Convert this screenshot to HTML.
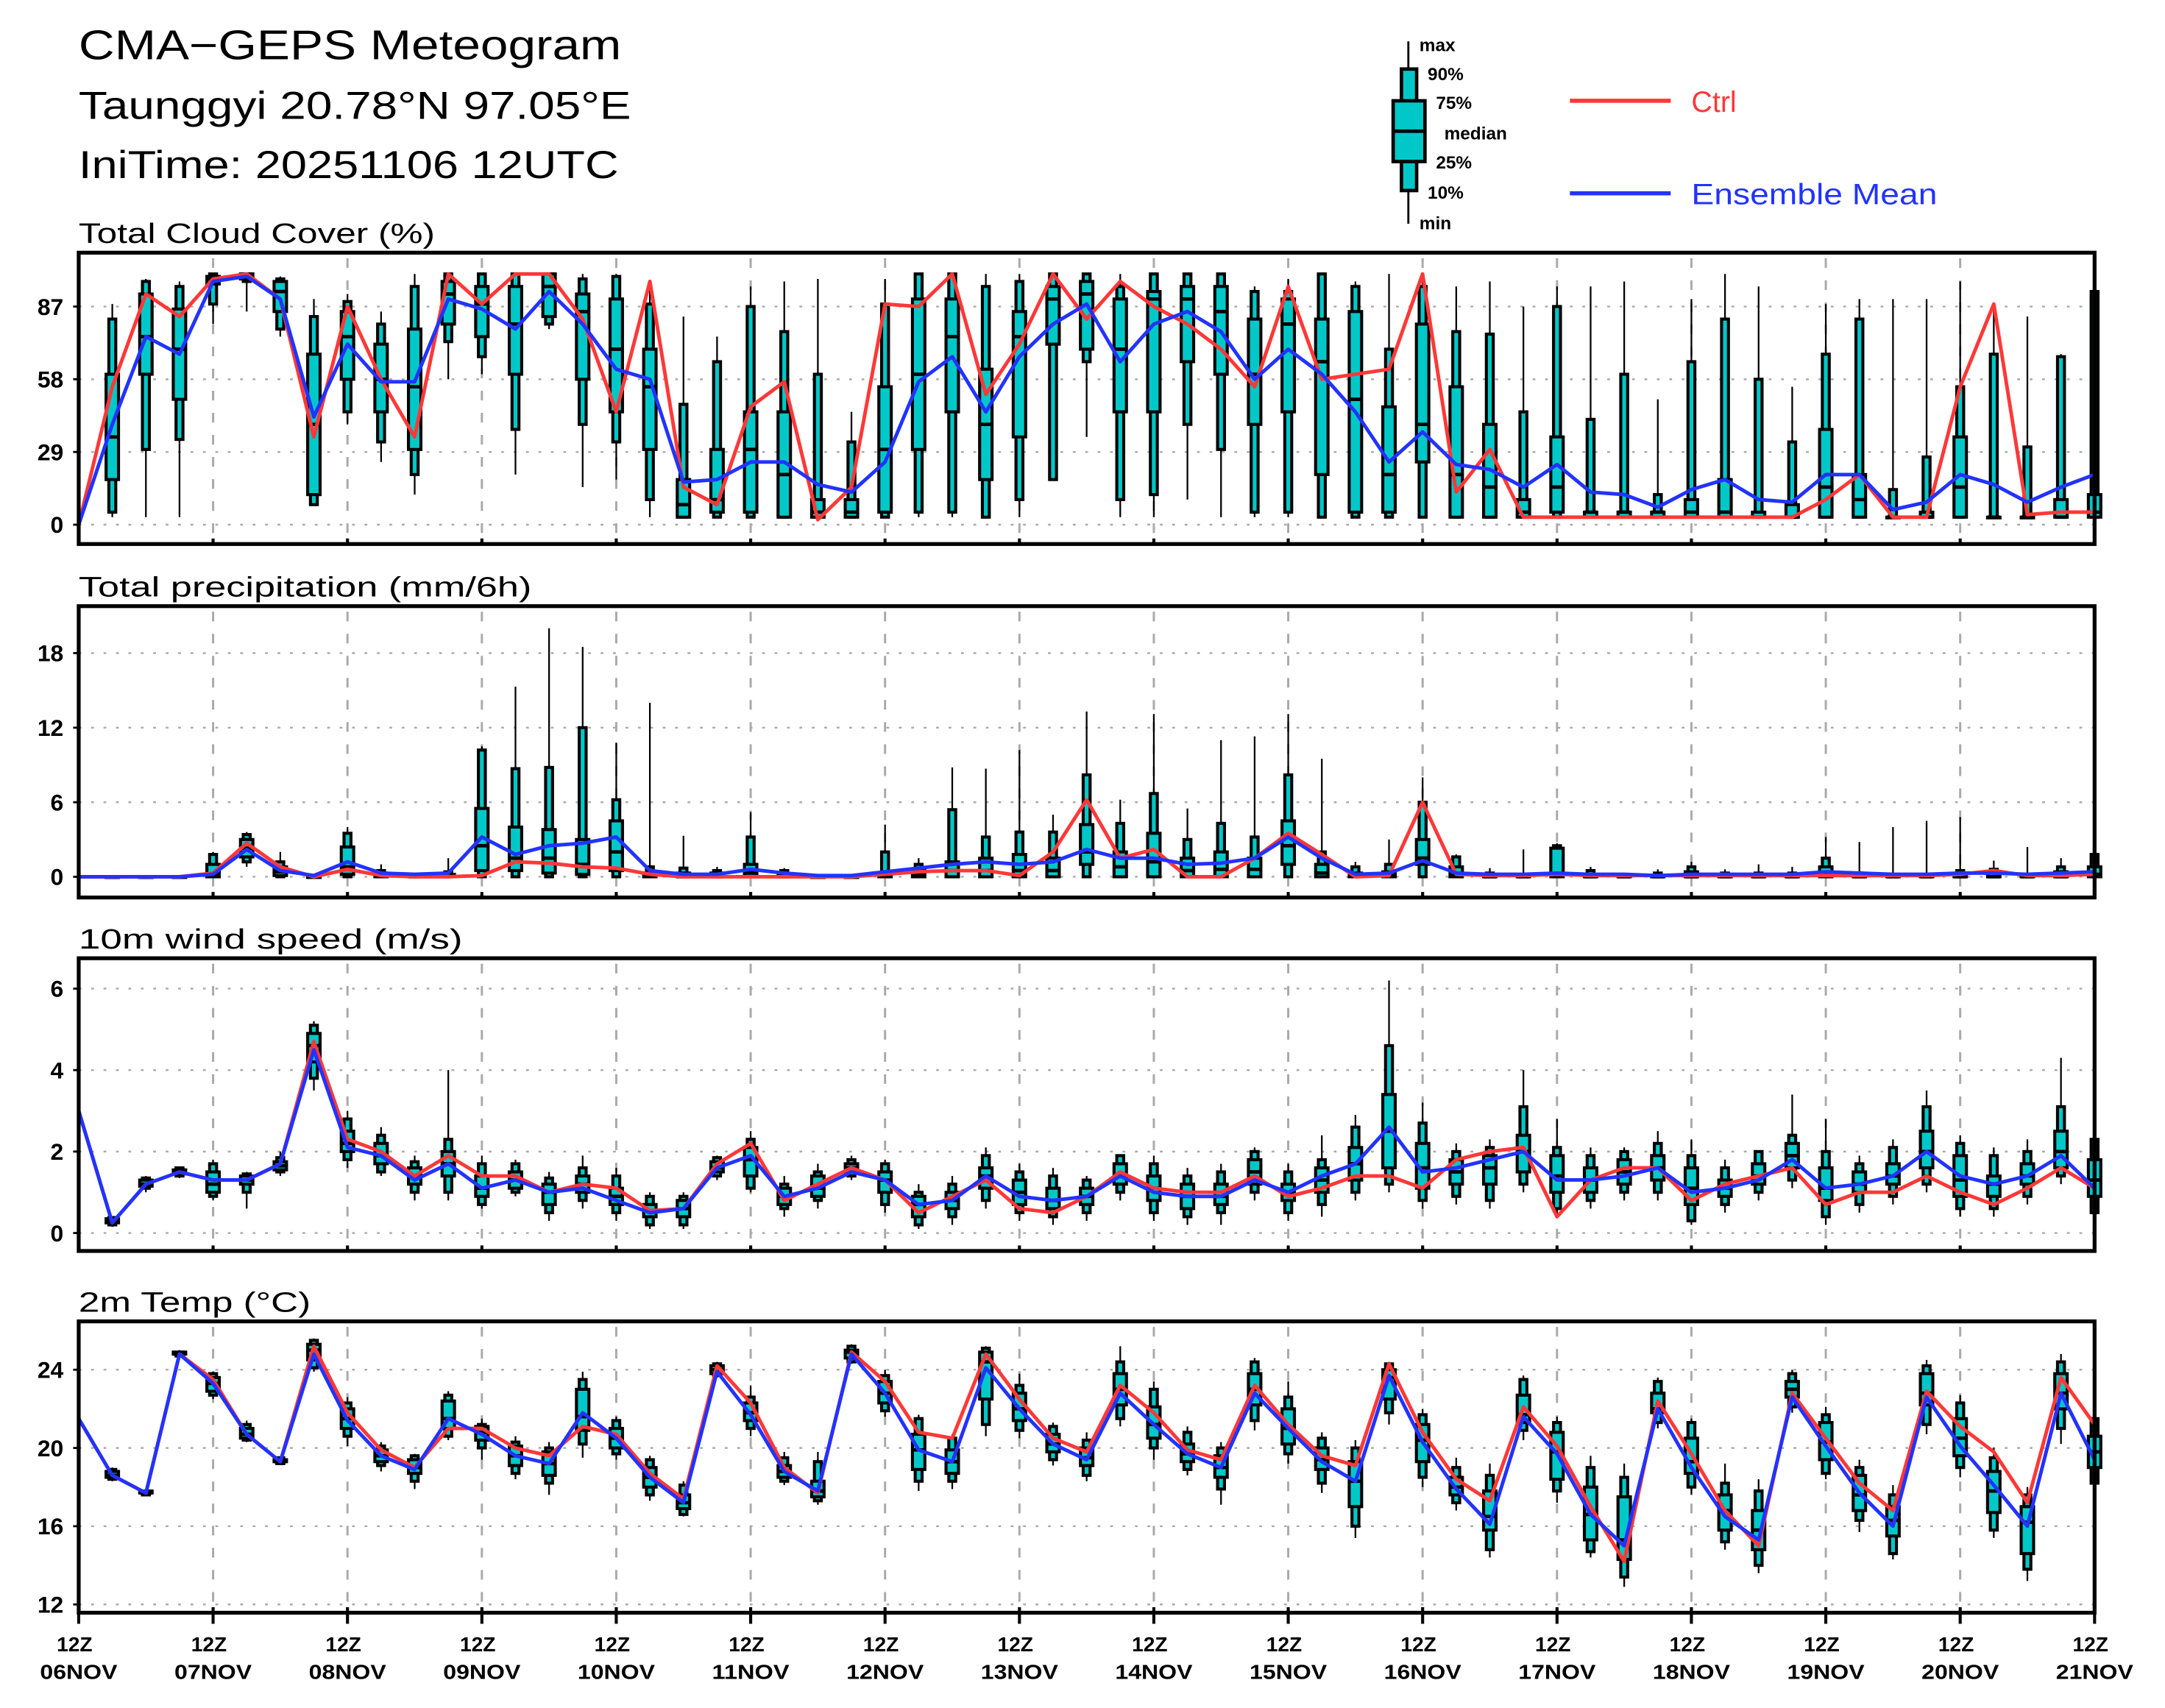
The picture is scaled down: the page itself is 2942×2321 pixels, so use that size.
<!DOCTYPE html>
<html><head><meta charset="utf-8"><title>CMA-GEPS Meteogram</title>
<style>html,body{margin:0;padding:0;background:#fff}svg{display:block}text{font-family:"Liberation Sans",sans-serif}</style>
</head><body>
<svg id="chart" xmlns="http://www.w3.org/2000/svg" width="2942" height="2321" viewBox="0 0 1568 1237" preserveAspectRatio="none">
<rect x="0" y="0" width="1568" height="1237" fill="#fff"/>
<g>
<text x="57" y="43" font-size="30" textLength="393" lengthAdjust="spacingAndGlyphs">CMA−GEPS Meteogram</text>
<text x="57" y="86" font-size="28" textLength="400" lengthAdjust="spacingAndGlyphs">Taunggyi 20.78°N 97.05°E</text>
<text x="57" y="129" font-size="28" textLength="391" lengthAdjust="spacingAndGlyphs">IniTime: 20251106 12UTC</text>
</g>
<g>
<line x1="1020" y1="30" x2="1020" y2="162" stroke="#000" stroke-width="1.5"/>
<rect x="1015" y="50" width="11" height="88" fill="#00c8c8" stroke="#000" stroke-width="2.5"/>
<rect x="1009" y="73" width="23" height="44" fill="#00c8c8" stroke="#000" stroke-width="2.5"/>
<line x1="1009" y1="95" x2="1032" y2="95" stroke="#000" stroke-width="2.5"/>
<g font-size="13" font-weight="bold">
<text x="1028" y="37">max</text><text x="1034" y="58">90%</text><text x="1040" y="79">75%</text>
<text x="1046" y="101">median</text><text x="1040" y="122">25%</text><text x="1034" y="144">10%</text><text x="1028" y="166">min</text>
</g>
<line x1="1137" y1="73" x2="1210" y2="73" stroke="#ff3838" stroke-width="3"/>
<text x="1225" y="81" font-size="21" fill="#ff3838">Ctrl</text>
<line x1="1137" y1="140" x2="1210" y2="140" stroke="#2233ff" stroke-width="3"/>
<text x="1225" y="148" font-size="21" fill="#2233ff" textLength="178" lengthAdjust="spacingAndGlyphs">Ensemble Mean</text>
</g>
<g id="panels"></g>
</svg>
<script>
// ---- shared time axis ----
const dayLabels = ["06NOV","07NOV","08NOV","09NOV","10NOV","11NOV","12NOV","13NOV","14NOV","15NOV","16NOV","17NOV","18NOV","19NOV","20NOV","21NOV"];
// ---- cloud cover (%) ----
const cloudCtrl = [0,55,92,83,98,100,90,35,87,58,35,100,88,100,100,82,45,97,15,8,47,57,2,15,88,87,100,52,72,100,82,97,87,80,70,55,95,58,60,62,100,13,30,3,3,3,3,3,3,3,3,3,10,20,3,3,55,88,4,5,5];
const cloudMean = [0,40,75,68,97,99,90,43,72,57,57,90,86,78,93,80,62,58,17,18,25,25,16,13,25,57,67,45,67,80,88,65,80,85,77,58,70,60,45,25,37,24,22,15,24,13,12,7,14,18,10,9,20,20,6,9,20,16,9,15,20];
const cloudMin = [0,3,3,3,80,85,75,8,40,25,12,58,60,20,78,15,18,3,3,3,3,3,3,3,3,3,3,3,3,18,35,3,3,10,3,3,3,3,3,3,3,3,3,3,3,3,3,3,3,3,3,3,3,3,3,3,3,3,3,3,3];
const cloudP10 = [0,5,30,34,88,97,78,8,45,33,20,73,67,38,80,40,33,10,3,3,3,3,3,3,3,5,5,3,10,18,65,10,12,40,30,5,5,3,3,3,3,3,3,3,3,3,3,3,3,3,3,3,3,3,3,3,3,3,3,3,3];
const cloudP25 = [0,18,60,50,96,98,85,12,58,45,30,80,75,60,83,58,45,30,3,5,5,3,3,3,5,30,45,18,35,72,70,45,45,65,60,40,45,20,5,5,25,3,3,3,5,3,3,3,3,3,3,3,3,3,3,3,3,3,3,3,3];
const cloudMed = [0,35,75,70,98,99,93,40,75,58,55,92,88,80,95,85,70,55,8,10,30,20,5,5,30,60,75,40,75,90,92,70,90,90,85,60,80,65,50,20,40,20,15,5,15,5,5,5,5,5,3,3,15,10,3,3,15,3,3,3,5];
const cloudP75 = [0,60,92,86,99,100,97,68,85,72,78,97,95,95,100,92,90,70,18,30,45,45,10,10,55,90,90,62,85,95,97,90,93,95,95,82,90,82,85,47,80,55,40,10,35,5,5,5,10,18,5,8,38,20,3,5,35,3,3,10,12];
const cloudP90 = [0,82,97,95,100,100,98,83,89,80,95,100,100,100,100,98,99,88,48,65,87,77,60,33,88,100,100,95,97,100,100,95,100,100,100,93,93,100,95,70,95,77,76,45,87,42,60,12,65,82,58,33,68,82,14,27,55,68,31,67,93];
const cloudMax = [0,88,98,97,100,100,99,90,92,85,100,100,100,100,100,100,100,95,83,75,95,97,98,45,98,100,100,100,100,100,100,100,100,100,100,95,98,100,97,100,100,95,97,87,95,95,97,50,90,100,95,55,88,90,90,90,97,88,83,68,95];
// ---- precipitation (mm/6h) ----
const prCtrl = [0,0,0,0,0.3,2.7,0.8,0,0.6,0.1,0,0,0.1,1.2,1.1,0.8,0.7,0.2,0,0,0,0,0,0,0.2,0.4,0.5,0.5,0.1,2.0,6.2,1.5,2.2,0,0,1.5,3.5,1.8,0,0.1,6.0,0.2,0.1,0.1,0.2,0.1,0.1,0.1,0.1,0.1,0.1,0.1,0.1,0.1,0.1,0.1,0.2,0.5,0.1,0.1,0.2];
const prMean = [0,0,0,0,0.2,2.2,0.5,0.1,1.2,0.3,0.2,0.3,3.2,1.8,2.5,2.7,3.2,0.5,0.2,0.2,0.6,0.3,0.1,0.1,0.4,0.7,1.0,1.2,1.0,1.2,2.2,1.5,1.5,1.0,1.1,1.5,3.2,1.5,0.2,0.3,1.3,0.3,0.2,0.2,0.3,0.2,0.2,0.1,0.2,0.2,0.2,0.2,0.4,0.3,0.2,0.2,0.3,0.3,0.2,0.3,0.4];
const prMin = [0,0,0,0,0,0.8,0,0,0,0,0,0,0,0,0,0,0,0,0,0,0,0,0,0,0,0,0,0,0,0,0,0,0,0,0,0,0,0,0,0,0,0,0,0,0,0,0,0,0,0,0,0,0,0,0,0,0,0,0,0,0];
const prP10 = [0,0,0,0,0,1.2,0,0,0,0,0,0,0,0,0,0,0,0,0,0,0,0,0,0,0,0,0,0,0,0,0,0,0,0,0,0,0,0,0,0,0,0,0,0,0,0,0,0,0,0,0,0,0,0,0,0,0,0,0,0,0];
const prP25 = [0,0,0,0,0,1.6,0.1,0,0.2,0,0,0,0.5,0.5,0.3,0.2,0.5,0,0,0,0,0,0,0,0,0,0,0,0,0,1.0,0,0,0,0,0,1.0,0,0,0,1.0,0,0,0,0,0,0,0,0,0,0,0,0,0,0,0,0,0,0,0,0];
const prMed = [0,0,0,0,0.2,2.3,0.4,0,0.8,0.1,0,0.1,2.5,1.5,1.5,1.0,2.0,0.1,0,0,0.3,0,0,0,0.1,0.2,0.5,0.5,0.5,0.5,2.0,0.8,1.2,0.5,0.6,0.6,2.5,0.3,0.1,0.1,1.5,0.1,0,0,0.1,0,0,0,0,0,0,0,0.2,0,0,0,0,0,0,0,0.2];
const prP75 = [0,0,0,0,1.0,3.0,0.8,0,2.4,0.3,0.1,0.2,5.5,4.0,3.8,3.0,4.5,0.3,0.3,0.3,1.0,0.2,0,0,0.3,0.5,1.2,1.5,1.8,1.5,4.2,2.0,3.5,1.5,2.0,1.5,4.5,1.0,0.3,0.4,3.0,0.8,0.2,0.1,2.3,0.2,0.1,0.1,0.4,0.1,0.2,0.2,0.8,0.1,0.1,0.1,0.2,0.3,0.1,0.4,0.8];
const prP90 = [0,0,0,0,1.8,3.4,1.2,0.1,3.5,0.5,0.2,0.4,10.2,8.7,8.8,12.0,6.2,0.8,0.7,0.5,3.2,0.5,0.1,0.1,2.0,1.0,5.4,3.2,3.6,3.6,8.2,4.3,6.7,3.0,4.3,3.2,8.2,2.0,0.8,1.0,6.0,1.6,0.3,0.2,2.5,0.5,0.2,0.3,0.8,0.3,0.3,0.3,1.5,0.3,0.2,0.2,0.5,0.6,0.2,0.8,1.8];
const prMax = [0,0,0,0,2.0,3.6,2.0,0.2,4.0,1.0,0.3,1.5,10.5,15.3,20.0,18.5,10.8,14.0,3.3,0.8,5.2,0.7,0.2,0.2,4.2,1.5,8.8,8.7,10.2,5.0,13.3,6.2,13.1,5.5,11.0,11.3,13.1,9.5,1.2,3.0,8.0,1.8,0.7,2.2,2.7,0.8,0.3,0.6,1.2,0.6,1.0,0.8,3.2,2.8,4.0,4.5,4.8,1.3,2.4,1.5,2.0];
// ---- 10m wind speed (m/s) ----
const wCtrl = [3.0,0.25,1.2,1.5,1.3,1.3,1.7,4.7,2.3,2.0,1.4,1.9,1.4,1.4,1.0,1.2,1.1,0.55,0.6,1.7,2.2,0.8,1.2,1.6,1.3,0.5,0.9,1.3,0.6,0.5,0.9,1.5,1.1,1.0,1.0,1.4,0.9,1.1,1.4,1.4,1.1,1.8,2.0,2.1,0.4,1.3,1.6,1.6,0.8,1.2,1.4,1.6,0.7,1.0,1.0,1.4,1.0,0.7,1.1,1.6,1.1];
const wMean = [3.0,0.25,1.2,1.5,1.3,1.3,1.7,4.5,2.1,1.9,1.3,1.7,1.1,1.3,1.0,1.1,0.8,0.5,0.6,1.6,1.9,0.9,1.1,1.5,1.3,0.7,0.8,1.4,0.9,0.8,0.9,1.4,1.0,0.9,0.9,1.3,1.0,1.4,1.7,2.6,1.5,1.6,1.8,2.0,1.3,1.3,1.4,1.6,1.0,1.1,1.3,1.8,1.1,1.2,1.4,2.0,1.4,1.2,1.4,1.9,1.1];
const wMin = [3.0,0.15,1.0,1.35,0.8,0.6,1.4,3.5,1.6,1.4,0.8,0.8,0.6,0.9,0.3,0.6,0.3,0.1,0.1,1.3,1.0,0.4,0.6,1.3,0.5,0.1,0.2,0.6,0.3,0.2,0.3,0.8,0.3,0.2,0.2,0.8,0.3,0.4,0.8,1.0,0.6,0.7,0.6,1.0,0.4,0.6,0.8,0.8,0.2,0.5,0.8,1.1,0.2,0.5,0.7,1.0,0.4,0.4,0.7,1.2,0.3];
const wP10 = [3.0,0.2,1.1,1.4,0.9,1.0,1.5,3.8,1.8,1.5,1.0,1.0,0.7,1.0,0.5,0.8,0.5,0.2,0.2,1.4,1.1,0.6,0.8,1.4,0.7,0.2,0.4,0.8,0.5,0.4,0.5,1.0,0.5,0.4,0.5,1.0,0.5,0.7,1.0,1.2,0.8,0.9,0.8,1.2,0.6,0.8,1.0,1.0,0.3,0.7,1.0,1.3,0.4,0.7,0.9,1.2,0.6,0.6,0.9,1.4,0.5];
const wP25 = [3.0,0.25,1.15,1.45,1.0,1.2,1.55,4.2,2.0,1.7,1.2,1.4,0.9,1.1,0.7,1.0,0.7,0.4,0.4,1.5,1.4,0.7,0.9,1.5,1.0,0.4,0.6,1.1,0.7,0.6,0.7,1.2,0.8,0.6,0.7,1.2,0.8,1.0,1.3,1.6,1.1,1.2,1.2,1.5,1.0,1.0,1.2,1.3,0.7,0.9,1.2,1.6,0.8,1.0,1.2,1.6,0.9,0.9,1.2,1.6,0.9];
const wMed = [3.0,0.3,1.2,1.5,1.2,1.3,1.65,4.6,2.2,1.9,1.4,1.7,1.1,1.3,1.0,1.2,0.9,0.55,0.6,1.6,1.8,0.9,1.1,1.6,1.3,0.7,0.8,1.4,1.0,0.8,0.9,1.4,1.1,0.9,0.9,1.5,1.0,1.3,1.7,2.5,1.6,1.5,1.6,2.0,1.4,1.3,1.5,1.6,1.1,1.1,1.4,1.9,1.1,1.2,1.4,2.0,1.3,1.2,1.4,2.0,1.3];
const wP75 = [3.0,0.35,1.3,1.55,1.5,1.4,1.75,4.9,2.5,2.2,1.6,2.0,1.4,1.5,1.2,1.4,1.1,0.7,0.8,1.75,2.1,1.1,1.4,1.7,1.5,0.9,1.0,1.6,1.3,1.1,1.1,1.7,1.4,1.2,1.2,1.8,1.2,1.6,2.1,3.4,2.2,1.8,1.9,2.4,1.9,1.6,1.8,1.9,1.6,1.3,1.7,2.2,1.6,1.5,1.7,2.5,1.9,1.4,1.7,2.5,1.8];
const wP90 = [3.0,0.38,1.35,1.6,1.7,1.45,1.85,5.1,2.8,2.4,1.75,2.3,1.7,1.7,1.35,1.6,1.4,0.9,0.9,1.85,2.3,1.2,1.5,1.8,1.7,1.0,1.2,1.9,1.5,1.4,1.3,1.9,1.7,1.4,1.5,2.0,1.5,1.8,2.6,4.6,2.7,2.0,2.1,3.1,2.1,1.9,2.0,2.2,1.9,1.6,2.0,2.4,2.0,1.7,2.1,3.1,2.2,1.9,2.0,3.1,2.3];
const wMax = [3.0,0.4,1.4,1.6,1.8,1.5,2.0,5.2,3.0,2.6,1.9,4.0,1.9,1.8,1.5,1.9,1.6,1.0,1.0,1.9,2.5,1.4,1.7,1.9,1.8,1.2,1.4,2.1,1.7,1.6,1.4,1.8,1.9,1.6,1.7,2.1,1.7,2.4,2.9,6.2,3.2,2.2,2.3,4.0,2.8,2.1,2.1,2.5,2.3,1.8,2.0,3.4,2.8,1.9,2.3,3.5,2.4,2.1,2.3,4.3,2.4];
// ---- 2m temperature (°C) ----
const tCtrl = [21.5,18.6,17.7,24.8,23.5,20.7,19.3,25.2,21.8,19.9,19.0,21.0,21.0,20.0,19.6,21.1,20.7,18.7,17.4,24.2,22.3,19.0,17.7,24.9,23.4,20.8,20.5,24.8,22.5,20.5,19.8,23.2,21.8,19.9,19.4,23.2,21.2,19.6,19.1,24.3,20.8,18.4,17.3,22.1,20.1,17.0,14.2,22.4,19.7,16.8,15.0,22.8,20.5,18.2,16.8,22.9,21.1,19.8,17.2,23.6,21.2];
const tMean = [21.5,18.6,17.7,24.8,23.3,20.7,19.3,24.8,21.4,19.6,18.9,21.5,20.7,19.6,19.2,21.8,20.5,18.5,17.2,23.9,21.7,18.8,17.8,24.8,22.8,19.9,19.3,24.1,22.0,20.2,19.4,22.8,21.2,19.7,19.0,22.8,21.0,19.3,18.3,23.7,20.3,17.9,16.1,21.6,19.7,16.6,15.0,22.0,19.0,16.5,15.3,22.6,20.1,17.7,16.0,22.6,20.1,18.1,16.0,22.8,19.4];
const tMin = [21.5,18.3,17.6,24.7,22.5,20.3,19.2,23.9,20.1,18.8,17.9,20.4,19.4,18.4,17.6,19.5,19.4,17.3,16.5,23.6,20.6,18.1,17.1,24.3,21.6,17.8,17.9,20.6,20.5,19.1,18.3,21.1,19.4,18.6,17.1,20.9,19.2,17.7,15.4,21.2,18.0,16.8,14.4,20.4,17.2,14.4,12.9,21.0,17.6,14.8,13.6,21.8,18.4,15.7,14.3,20.7,18.5,15.4,13.2,20.2,17.8];
const tP10 = [21.5,18.4,17.6,24.7,22.7,20.4,19.2,24.1,20.6,19.1,18.3,20.6,20.0,18.7,18.2,20.2,19.7,17.6,16.6,23.7,21.0,18.3,17.3,24.4,21.9,18.3,18.3,21.2,20.9,19.4,18.6,21.5,20.0,18.9,17.9,21.4,19.7,18.2,16.0,21.8,18.5,17.2,14.8,20.9,17.8,14.7,13.4,21.3,18.0,15.2,14.0,22.1,18.7,16.3,14.6,21.2,19.0,15.8,13.8,21.0,18.2];
const tP25 = [21.5,18.5,17.7,24.8,22.9,20.5,19.3,24.5,21.0,19.3,18.7,21.0,20.4,19.1,18.6,20.9,20.0,18.0,16.9,23.8,21.4,18.5,17.5,24.6,22.3,18.9,18.7,22.5,21.4,19.8,19.1,22.2,20.5,19.3,18.5,22.2,20.2,18.9,17.0,22.5,19.3,17.6,15.8,21.3,18.4,15.3,14.3,21.8,18.7,15.8,14.8,22.6,19.4,16.8,15.5,22.2,19.6,16.7,14.6,22.0,19.0];
const tMed = [21.5,18.6,17.7,24.8,23.3,20.7,19.3,25.0,21.5,19.6,19.0,21.5,20.8,19.6,19.2,21.6,20.5,18.5,17.2,24.0,21.8,18.8,17.8,24.9,22.8,19.9,19.3,24.4,22.0,20.2,19.5,23.0,21.2,19.7,19.0,23.0,21.0,19.4,18.3,23.6,20.4,18.0,16.5,21.7,19.8,16.6,15.3,22.0,19.3,16.8,15.8,23.0,20.3,17.6,16.3,22.8,20.5,17.8,16.2,22.8,19.8];
const tP75 = [21.5,18.8,17.8,24.9,23.6,21.0,19.4,25.3,22.0,19.9,19.4,22.4,21.1,20.1,19.8,23.0,21.0,19.0,17.6,24.2,22.3,19.1,18.3,25.0,23.4,20.7,19.9,24.9,22.8,20.7,20.0,23.8,22.1,20.2,19.6,23.8,22.0,20.0,19.3,24.0,21.2,18.5,17.8,22.7,20.8,18.0,17.5,22.8,20.5,17.6,16.8,23.4,21.3,18.6,17.0,23.8,21.5,18.8,17.0,23.8,20.6];
const tP90 = [21.5,18.9,17.8,24.9,23.8,21.2,19.5,25.5,22.3,20.1,19.6,22.7,21.2,20.3,20.0,23.5,21.4,19.4,18.1,24.3,22.6,19.5,19.3,25.2,23.7,21.5,20.5,25.1,23.2,21.1,20.4,24.4,23.0,20.8,20.0,24.4,22.6,20.5,20.0,24.3,21.7,19.0,18.6,23.5,21.3,19.0,18.5,23.4,21.3,18.2,17.8,23.8,21.7,19.0,17.6,24.2,22.3,19.5,17.6,24.4,21.5];
const tMax = [21.5,19.0,17.9,25.0,23.9,21.4,19.5,25.6,22.6,20.3,19.7,22.9,21.5,20.6,20.3,23.9,21.6,19.6,18.3,24.4,23.2,19.8,19.8,25.3,24.0,21.7,20.7,25.2,23.8,21.3,20.8,25.2,23.4,21.1,20.3,24.6,23.4,20.8,20.4,24.4,22.0,19.5,19.2,23.7,21.6,19.6,19.2,23.6,21.5,19.2,18.4,24.0,22.1,19.4,18.1,24.5,22.7,20.0,18.0,24.8,21.8];

const NS = "http://www.w3.org/2000/svg";
const root = document.getElementById('panels');
const X0 = 57, X1 = 1517, NSTEP = 60;
function xAt(i){ return X0 + (X1 - X0) * i / NSTEP; }
function mk(tag, attrs, parent){
  const e = document.createElementNS(NS, tag);
  for (const k in attrs) e.setAttribute(k, attrs[k]);
  parent.appendChild(e); return e;
}
function panel(cfg){
  const g = mk('g', {}, root);
  
  
  const y = v => cfg.y0 + (v - cfg.vmin) * (cfg.y1 - cfg.y0) / (cfg.vmax - cfg.vmin);
  const t = mk('text', {x:57, y:cfg.top - 7, 'font-size':20, textLength:cfg.tl, lengthAdjust:'spacingAndGlyphs'}, g);
  t.textContent = cfg.title;
  
  
  cfg.ticks.forEach(v => {
    mk('line', {x1:X0, x2:X1, y1:y(v), y2:y(v), stroke:'#aaa', 'stroke-width':1.3, 'stroke-dasharray':'2 7'}, g);
    mk('line', {x1:X0-4, x2:X0, y1:y(v), y2:y(v), stroke:'#000', 'stroke-width':1.5}, g);
    const lb = mk('text', {x:46, y:y(v)+6, 'font-size':17, 'font-weight':'bold', 'text-anchor':'end'}, g);
    lb.textContent = String(v);
    
    
  });
  for (let d = 1; d < dayLabels.length - 1; d++){
    const x = xAt(d * 4);
    mk('line', {x1:x, x2:x, y1:cfg.top+4, y2:cfg.bot, stroke:'#aaa', 'stroke-width':1.6, 'stroke-dasharray':'7 9'}, g);
  }
  for (let i = 1; i <= NSTEP; i++){
    const x = xAt(i);
    mk('line', {x1:x, x2:x, y1:y(cfg.mn[i]), y2:y(cfg.mx[i]), stroke:'#000', 'stroke-width':1.2}, g);
    const a = y(cfg.p90[i]), b = y(cfg.p10[i]);
    const r1 = mk('rect', {x:x-2.5, y:Math.min(a,b), width:5, height:Math.max(0.5,Math.abs(b-a)), fill:'#00c8c8', stroke:'#000', 'stroke-width':2.2}, g);
    
    
    const c = y(cfg.p75[i]), d2 = y(cfg.p25[i]);
    const r2 = mk('rect', {x:x-4.5, y:Math.min(c,d2), width:9, height:Math.max(0.5,Math.abs(d2-c)), fill:'#00c8c8', stroke:'#000', 'stroke-width':2.2}, g);
    
    
    mk('line', {x1:x-4.5, x2:x+4.5, y1:y(cfg.md[i]), y2:y(cfg.md[i]), stroke:'#000', 'stroke-width':2.5}, g);
  }
  const pts = arr => arr.map((v,i) => xAt(i).toFixed(1) + ',' + y(v).toFixed(1)).join(' ');
  const pc = mk('polyline', {points:pts(cfg.ctrl), fill:'none', stroke:'#ff3838', 'stroke-width':2.6, 'stroke-linejoin':'round'}, g);
  
  
  const pm = mk('polyline', {points:pts(cfg.mean), fill:'none', stroke:'#2233ff', 'stroke-width':2.6, 'stroke-linejoin':'round'}, g);
  
  
  const fr = mk('rect', {x:X0, y:cfg.top, width:X1-X0, height:cfg.bot-cfg.top, fill:'none', stroke:'#000', 'stroke-width':2.8}, g);
  
  
  for (let dd = 0; dd < dayLabels.length; dd++){
    const x = xAt(dd * 4);
    mk('line', {x1:x, x2:x, y1:cfg.bot-4, y2:cfg.bot + (cfg.last ? 8 : 0), stroke:'#000', 'stroke-width':2.2}, g);
  }
}
panel({name:'cloud-cover-panel', title:'Total Cloud Cover (%)', tl:258, top:183, bot:394, y0:380, y1:222, vmin:0, vmax:87, ticks:[0,29,58,87],
  ctrl:cloudCtrl, mean:cloudMean, mn:cloudMin, p10:cloudP10, p25:cloudP25, md:cloudMed, p75:cloudP75, p90:cloudP90, mx:cloudMax});
panel({name:'precipitation-panel', title:'Total precipitation (mm/6h)', tl:328, top:439, bot:650, y0:635, y1:473, vmin:0, vmax:18, ticks:[0,6,12,18],
  ctrl:prCtrl, mean:prMean, mn:prMin, p10:prP10, p25:prP25, md:prMed, p75:prP75, p90:prP90, mx:prMax});
panel({name:'wind-speed-panel', title:'10m wind speed (m/s)', tl:278, top:694, bot:906, y0:893, y1:716, vmin:0, vmax:6, ticks:[0,2,4,6],
  ctrl:wCtrl, mean:wMean, mn:wMin, p10:wP10, p25:wP25, md:wMed, p75:wP75, p90:wP90, mx:wMax});
panel({name:'temperature-panel', title:'2m Temp (°C)', tl:168, top:957, bot:1168, y0:1162, y1:992, vmin:12, vmax:24, ticks:[12,16,20,24], last:true,
  ctrl:tCtrl, mean:tMean, mn:tMin, p10:tP10, p25:tP25, md:tMed, p75:tP75, p90:tP90, mx:tMax});
const xg = mk('g', {}, root);


dayLabels.forEach((lbl, dd) => {
  const x = xAt(dd * 4);
  const a = mk('text', {x:x-3, y:1196, 'font-size':15, 'font-weight':'bold', 'text-anchor':'middle'}, xg);
  a.textContent = '12Z';
  
  
  const b = mk('text', {x:x, y:1216, 'font-size':15, 'font-weight':'bold', 'text-anchor':'middle', textLength:56, lengthAdjust:'spacingAndGlyphs'}, xg);
  b.textContent = lbl;
  
  
});
</script>
</body></html>
